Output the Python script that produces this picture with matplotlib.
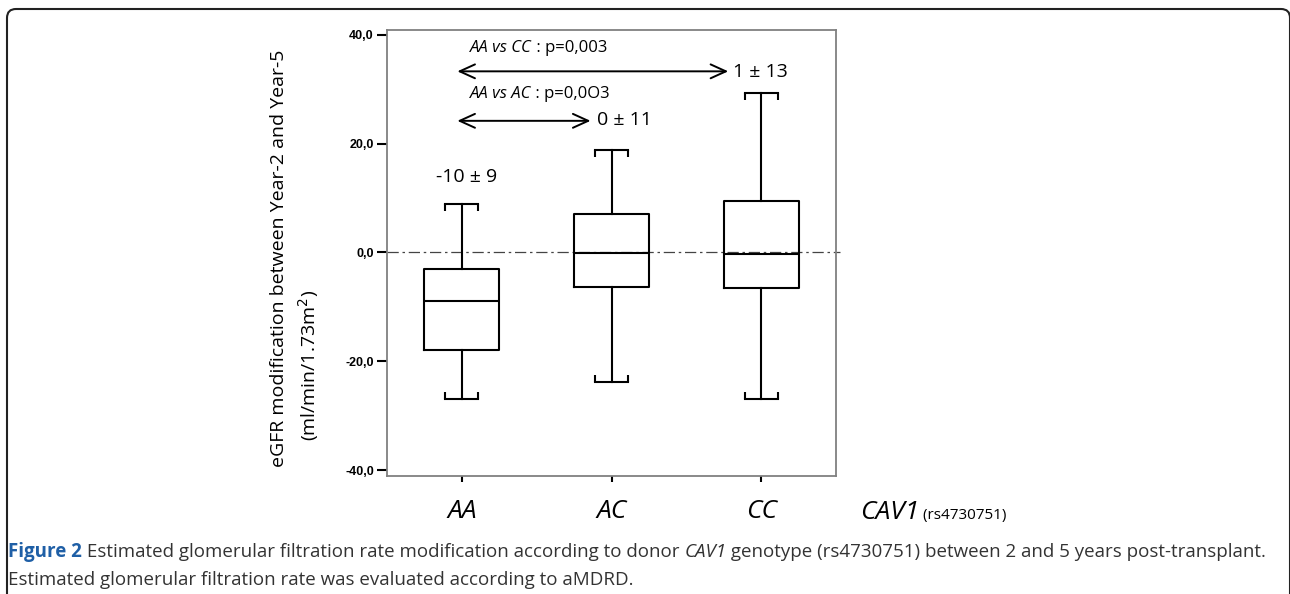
import matplotlib
matplotlib.use('Agg')
import matplotlib.pyplot as plt
from matplotlib.patches import FancyBboxPatch

# summary statistics (eGFR change, ml/min/1.73m2)
groups = ['AA', 'AC', 'CC']
q1 = [-17.9, -6.3, -6.5]
med = [-9.0, -0.1, -0.25]
q3 = [-3.0, 7.1, 9.5]
whislo = [-27.0, -23.9, -27.0]
whishi = [8.9, 18.9, 29.3]
mean_sd = ['-10 ± 9', '0 ± 11', '1 ± 13']
yticks = [-40, -20, 0, 20, 40]

fs = 'Open Sans'
tickfont = ['Liberation Sans Narrow', 'Liberation Sans']
caption_col = '#333333'

fig = plt.figure(figsize=(12.9, 5.94), dpi=100)
ax = fig.add_axes([387 / 1290, 1 - 476 / 594, (836 - 387) / 1290, (476 - 30) / 594])

stats = [dict(q1=a, med=m, q3=b, whislo=lo, whishi=hi, fliers=[])
         for a, m, b, lo, hi in zip(q1, med, q3, whislo, whishi)]
lp = dict(color='black', linewidth=1.5)
bp = ax.bxp(stats, positions=[1, 2, 3], widths=0.5, capwidths=0.22,
            showfliers=False, boxprops=lp, whiskerprops=lp, capprops=lp,
            medianprops=lp)

# little serifs at the cap ends, pointing toward the box
for i, cap in enumerate(bp['caps']):
    xs = cap.get_xdata()
    y = cap.get_ydata()[0]
    d = 1.3 if i % 2 == 0 else -1.3
    for x in (xs[0], xs[-1]):
        ax.plot([x, x], [y, y + d], color='black', lw=1.5, solid_capstyle='butt')

# reference line at zero
ax.axhline(0, xmin=0, xmax=1.008, color='#444444', lw=0.9,
           linestyle=(0, (9, 3, 2, 3)), clip_on=False, zorder=1)

ax.set_xlim(0.5, 3.5)
ax.set_ylim(-41.1, 40.9)
ax.set_yticks(yticks)
ax.set_yticklabels([f'{v:.1f}'.replace('.', ',') for v in yticks],
                   family=tickfont, fontweight='bold', fontsize=9)
ax.set_xticks([1, 2, 3])
ax.set_xticklabels(groups, family=fs, style='italic', fontsize=19)
ax.tick_params(axis='both', direction='out', width=1.5, color='black')
ax.tick_params(axis='y', length=7.5, pad=2)
ax.tick_params(axis='x', length=4.5, pad=12)
for sp in ax.spines.values():
    sp.set_color('#808080')
    sp.set_linewidth(1.3)

# y label, two lines placed separately
fig.text(279 / 1290, 1 - 258 / 594, 'eGFR modification between Year-2 and Year-5',
         family=fs, fontsize=14, rotation=90, ha='center', va='center')
fig.text(309 / 1290, 1 - 365 / 594, '(ml/min/1.73m$^2$)',
         family=fs, fontsize=14, rotation=90, ha='center', va='center')

# mean +/- sd labels
ax.text(1.03, 13.8, mean_sd[0], family=fs, fontsize=14, ha='center', va='center')
ax.text(1.905, 24.4, mean_sd[1], family=fs, fontsize=14, ha='left', va='center')
ax.text(2.81, 33.1, mean_sd[2], family=fs, fontsize=14, ha='left', va='center')

# comparison arrows
arrow = dict(arrowstyle='<->,head_length=0.55,head_width=0.25', lw=1.4,
             color='black', shrinkA=0, shrinkB=0, mutation_scale=20)
ax.annotate('', xy=(0.97, 33.3), xytext=(2.78, 33.3), arrowprops=arrow)
ax.annotate('', xy=(0.97, 24.2), xytext=(1.86, 24.2), arrowprops=arrow)

for label, p, ytxt in [('AA vs CC', ' : p=0,003', 36.9), ('AA vs AC', ' : p=0,0O3', 28.4)]:
    t = ax.text(1.055, ytxt, label, family=fs, style='italic', fontsize=12, va='baseline')
    ax.annotate(p, xy=(1, ytxt), xycoords=(t, 'data'), family=fs, fontsize=12,
                va='baseline')

# gene label next to the genotypes
t = fig.text(860 / 1290, 1 - 519 / 594, 'CAV1', family=fs, style='italic',
             fontsize=19, va='baseline')
ax.annotate(' (rs4730751)', xy=(1, 1 - 519 / 594), xycoords=(t, 'figure fraction'),
            family=fs, fontsize=11, va='baseline', annotation_clip=False)

# caption
y1 = 1 - 557 / 594
y2 = 1 - 585 / 594
parts = [('Figure 2', dict(fontweight='bold', color='#1f5fa6')),
         (' Estimated glomerular filtration rate modification according to donor ', {}),
         ('CAV1', dict(style='italic')),
         (' genotype (rs4730751) between 2 and 5 years post-transplant.', {})]
prev = None
for s, kw in parts:
    kw = dict(kw)
    kw.setdefault('color', caption_col)
    if prev is None:
        prev = fig.text(8 / 1290, y1, s, family=fs, fontsize=13.5, va='baseline', **kw)
    else:
        prev = ax.annotate(s, xy=(1, y1), xycoords=(prev, 'figure fraction'),
                           family=fs, fontsize=13.5, va='baseline', annotation_clip=False, **kw)
fig.text(8 / 1290, y2, 'Estimated glomerular filtration rate was evaluated according to aMDRD.',
         family=fs, fontsize=13.5, va='baseline', color=caption_col)

# rounded frame around the figure
frame = FancyBboxPatch((0.07, -0.5), 12.9 - 0.07, 5.85 + 0.5,
                       boxstyle='round,pad=0,rounding_size=0.09',
                       transform=fig.dpi_scale_trans, fc='none', ec='#222222',
                       lw=1.5, clip_on=False)
fig.add_artist(frame)

fig.savefig('out.png', dpi=100)
